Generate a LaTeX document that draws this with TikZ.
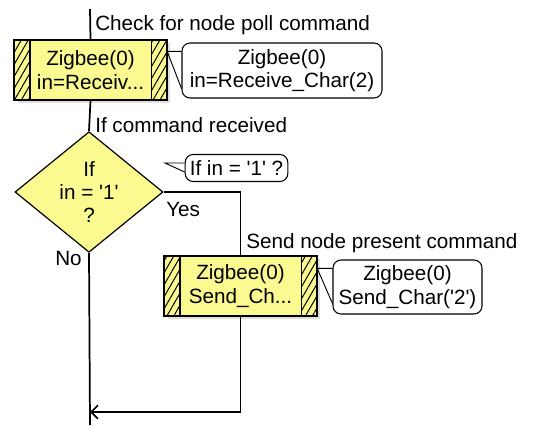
\documentclass[tikz,border=0pt]{standalone}
\usepackage{fontspec}
\setmainfont{Liberation Sans}
\usetikzlibrary{shapes.geometric,patterns.meta,arrows.meta,shadows}
\definecolor{flowyellow}{RGB}{250,250,145}
\newcommand{\flowtext}{\fontsize{15.5}{17.5}\selectfont}
\newcommand{\sq}{\textquotesingle}
\tikzset{
  macro/.style={draw, line width=1pt, fill=flowyellow, minimum width=114pt, minimum height=45pt,
    inner sep=0pt, align=center, drop shadow={shadow xshift=2.5pt, shadow yshift=-2.5pt, fill=black!25}},
  decision/.style={draw, line width=0.9pt, diamond, fill=flowyellow, minimum width=111pt, minimum height=87.75pt,
    inner sep=0pt, align=center},
  callout/.style={draw, line width=0.8pt, rounded corners=6pt, fill=white, inner sep=0pt, align=center},
  hatch/.style={pattern={Lines[angle=60, distance=4.5pt, line width=0.75pt]}},
  wire/.style={line width=1.3pt, black},
  tail/.style={line width=0.7pt},
  label/.style={anchor=west, inner sep=0pt}
}
\begin{document}
\begin{tikzpicture}[x=0.75pt, y=-0.75pt, every node/.style={font=\flowtext}]
\useasboundingbox (0,0) rectangle (539,425);

% main column
\coordinate (top) at (90,9);
\coordinate (bottom) at (90,425);
\node[macro] (rx) at (90.5,70) {Zigbee(0)\\in=Receiv...};
\node[decision] (test) at (89,192) {If\\in = \sq1\sq\\?};

% yes branch
\node[macro] (tx) at (240.5,286) {Zigbee(0)\\Send\_Ch...};
\coordinate (back) at (90,412);

% hatched side bars
\foreach \b in {rx,tx} {
  \fill[hatch] (\b.north west) rectangle ([xshift=12pt]\b.south west);
  \fill[hatch] ([xshift=-12pt]\b.north east) rectangle (\b.south east);
  \draw[line width=1pt] ([xshift=12pt]\b.north west) -- ([xshift=12pt]\b.south west);
  \draw[line width=1pt] ([xshift=-12pt]\b.north east) -- ([xshift=-12pt]\b.south east);
  \draw[line width=1pt] (\b.north west) rectangle (\b.south east);
}

% comments
\node[label] (cmt1) at (95,25) {Check for node poll command};
\node[label] (cmt2) at (95,125) {If command received};
\node[label] (cmt3) at (246,243) {Send node present command};
\node[label] (yes) at (166,209) {Yes};
\node[label, anchor=east] (no) at (82,258) {No};

% callouts
\node[callout, minimum width=150pt, minimum height=41.25pt] (rxcall) at (282,70.5) {Zigbee(0)\\in=Receive\_Char(2)};
\node[callout, minimum width=77pt, minimum height=20.25pt] (testcall) at (236.5,168) {If in = \sq1\sq\ ?};
\node[callout, minimum width=111.75pt, minimum height=40.5pt] (txcall) at (407.5,287) {Zigbee(0)\\Send\_Char(\sq2\sq)};

\coordinate (testtip) at (165,163);
\draw[tail] ([yshift=-6.75pt]rxcall.north west) -- ([yshift=-9pt]rx.north east) -- ([yshift=7.5pt]rxcall.south west);
\draw[tail] (testcall.west |- testtip) -- (testtip) -- ([yshift=-3pt]testcall.west);
\draw[tail] ([yshift=-6.75pt]txcall.north west) -- ([yshift=-9.75pt]tx.north east) -- ([yshift=8.25pt]txcall.south west);

% connectors
\draw[wire] (top) -- (rx.north);
\draw[wire] (rx.south) -- (test.north);
\draw[wire] (test.south) -- (bottom);
\draw[wire] (test.east) -| (tx.north);
\draw[wire, -{Straight Barb[length=5pt, width=10pt]}] (tx.south) |- (back);
\end{tikzpicture}
\end{document}
